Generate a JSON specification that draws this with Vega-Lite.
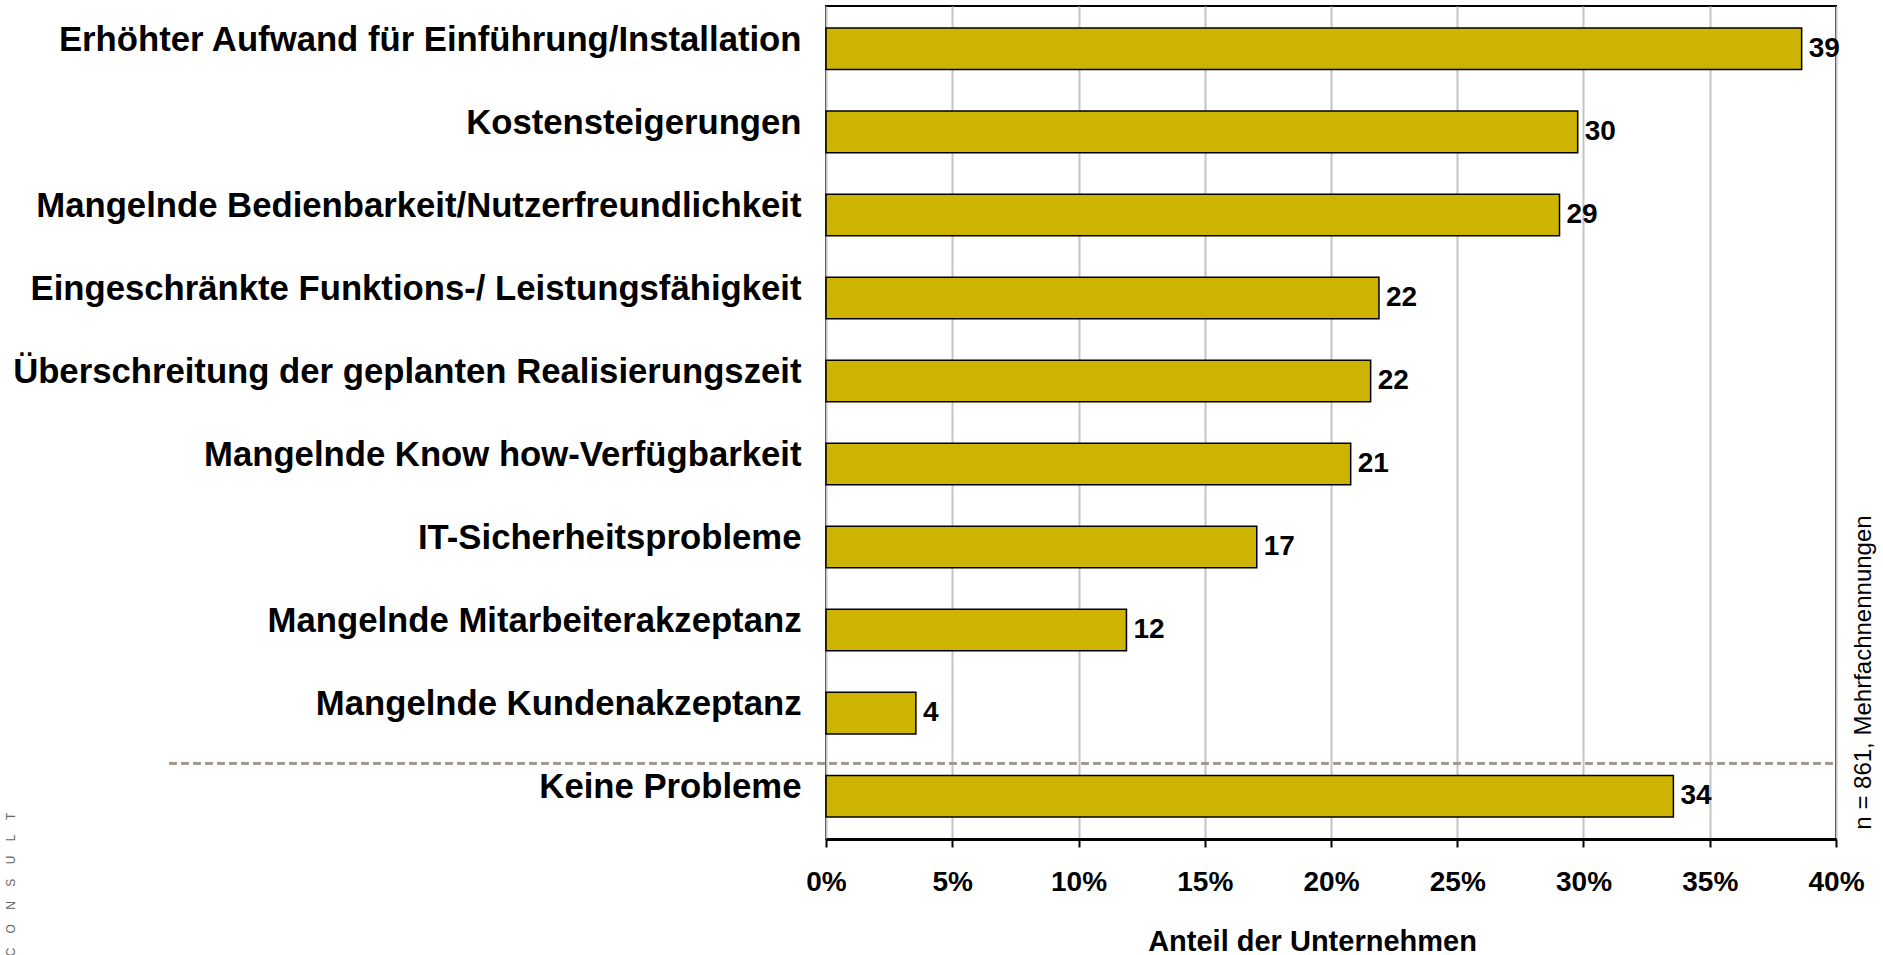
{
  "$schema": "https://vega.github.io/schema/vega-lite/v6.json",
  "autosize": {"type": "none"},
  "width": 1010,
  "height": 833,
  "padding": {"left": 826, "top": 6, "right": 47, "bottom": 116},
  "background": "white",
  "config": {
    "font": "Liberation Sans",
    "view": {"stroke": "black", "strokeWidth": 2}
  },
  "data": {
    "values": [
      {"kategorie": "Erhöhter Aufwand für Einführung/Installation", "anteil": 0.3864, "label": "39"},
      {"kategorie": "Kostensteigerungen", "anteil": 0.2977, "label": "30"},
      {"kategorie": "Mangelnde Bedienbarkeit/Nutzerfreundlichkeit", "anteil": 0.2905, "label": "29"},
      {"kategorie": "Eingeschränkte Funktions-/ Leistungsfähigkeit", "anteil": 0.219, "label": "22"},
      {"kategorie": "Überschreitung der geplanten Realisierungszeit", "anteil": 0.2157, "label": "22"},
      {"kategorie": "Mangelnde Know how-Verfügbarkeit", "anteil": 0.2078, "label": "21"},
      {"kategorie": "IT-Sicherheitsprobleme", "anteil": 0.1706, "label": "17"},
      {"kategorie": "Mangelnde Mitarbeiterakzeptanz", "anteil": 0.119, "label": "12"},
      {"kategorie": "Mangelnde Kundenakzeptanz", "anteil": 0.0356, "label": "4"},
      {"kategorie": "Keine Probleme", "anteil": 0.3356, "label": "34"}
    ]
  },
  "resolve": {"axis": {"y": "independent"}},
  "layer": [
    {
      "mark": {"type": "bar", "fill": "#CDB400", "stroke": "black", "strokeWidth": 1.5},
      "encoding": {
        "y": {
          "field": "kategorie",
          "type": "nominal",
          "sort": null,
          "scale": {"paddingInner": 0.5, "paddingOuter": 0.266},
          "axis": {
            "title": "C\u2003\u2009O\u2003\u2009N\u2003\u2009S\u2003\u2009U\u2003\u2009L\u2003\u2009T",
            "titleAngle": 270,
            "titleX": -812,
            "titleY": 950,
            "titleAlign": "left",
            "titleBaseline": "alphabetic",
            "titleFontSize": 12,
            "titleFontWeight": "normal",
            "titleColor": "#666666",
            "labelFontSize": 34.7,
            "labelFontWeight": "bold",
            "labelColor": "black",
            "labelLimit": 1000,
            "labelPadding": 25,
            "labelOffset": -8,
            "labelBaseline": "middle",
            "ticks": false,
            "domain": false,
            "grid": false
          }
        },
        "x": {
          "field": "anteil",
          "type": "quantitative",
          "scale": {"domain": [0, 0.4], "nice": false, "zero": true},
          "axis": {
            "title": "Anteil der Unternehmen",
            "values": [0, 0.05, 0.1, 0.15, 0.2, 0.25, 0.3, 0.35, 0.4],
            "format": ".0%",
            "labelFontSize": 28,
            "labelFontWeight": "bold",
            "labelColor": "black",
            "labelPadding": 21,
            "labelFlush": false,
            "labelOverlap": false,
            "tickColor": "black",
            "tickWidth": 2,
            "tickSize": 8,
            "domainColor": "black",
            "domainWidth": 3,
            "grid": true,
            "gridColor": "#c4c4c4",
            "gridWidth": 2,
            "titleFontSize": 29,
            "titleFontWeight": "bold",
            "titleColor": "black",
            "titleX": 486,
            "titleY": 111,
            "titleAlign": "center",
            "titleBaseline": "alphabetic"
          }
        }
      }
    },
    {
      "mark": {"type": "text", "align": "left", "baseline": "middle", "dx": 7, "fontSize": 28, "fontWeight": "bold", "color": "black"},
      "encoding": {
        "y": {
          "field": "kategorie",
          "type": "nominal",
          "sort": null,
          "axis": {
            "orient": "right",
            "labels": false,
            "ticks": false,
            "domain": false,
            "grid": false,
            "title": "n = 861, Mehrfachnennungen",
            "titleAngle": 270,
            "titleX": 34,
            "titleY": 666,
            "titleAlign": "center",
            "titleBaseline": "alphabetic",
            "titleFontSize": 24,
            "titleFontWeight": "normal",
            "titleColor": "black"
          }
        },
        "x": {"field": "anteil", "type": "quantitative"},
        "text": {"field": "label", "type": "nominal"}
      }
    },
    {
      "mark": {"type": "rule", "stroke": "#a39791", "strokeWidth": 2, "strokeDash": [7, 5], "yOffset": -33},
      "encoding": {
        "y": {"datum": "Keine Probleme", "type": "nominal", "axis": null},
        "x": {"datum": -0.26, "type": "quantitative"},
        "x2": {"datum": 0.4}
      }
    }
  ]
}
